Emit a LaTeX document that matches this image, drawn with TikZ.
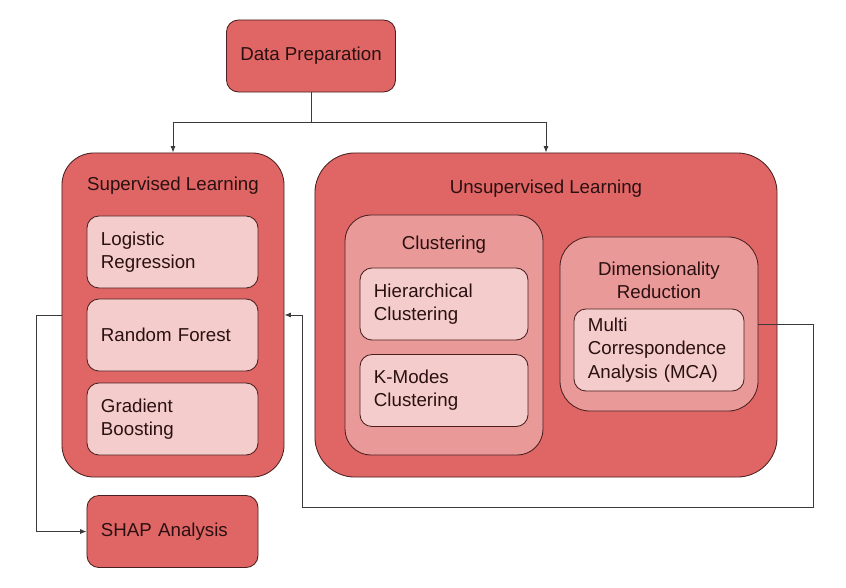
\documentclass[tikz,border=0pt]{standalone}
\usepackage{fontspec}
\setmainfont{Liberation Sans}
\usetikzlibrary{arrows.meta}

\definecolor{clrbox}{HTML}{E06666}
\definecolor{clrmid}{HTML}{EA9999}
\definecolor{clrleaf}{HTML}{F4CCCC}
\definecolor{clrline}{HTML}{4A1F1F}
\definecolor{clrtext}{HTML}{2A1010}
\definecolor{clrwire}{HTML}{3A3A3A}

\begin{document}
\begin{tikzpicture}[x=0.025cm, y=-0.025cm,
	txt/.style={font=\fontsize{13.3}{16.5}\selectfont, text=clrtext},
	group/.style={draw=clrline, fill=#1, line width=0.6pt, inner sep=0pt},
	leaf/.style={txt, draw=clrline, fill=clrleaf, line width=0.6pt, rounded corners=0.3cm,
		minimum height=1.8cm, inner xsep=0.35cm, text width=#1, align=left},
	title/.style={txt, align=center},
	wire/.style={draw=clrwire, line width=0.6pt},
	tip/.style={-{Latex[length=4.5pt,width=3.5pt]}}
]

\useasboundingbox (0,0) rectangle (846,587);

\def\leafW{3.575cm}
\def\clusW{3.5cm}
\def\mcaW{3.55cm}

% top
\node[txt, draw=clrline, fill=clrbox, line width=0.6pt, rounded corners=0.3cm,
	minimum width=4.225cm, minimum height=1.8cm] (prep) at (311,56) {Data Preparation};

% supervised
\node[group=clrbox, rounded corners=0.8cm, minimum width=5.55cm, minimum height=8.1cm] (sup) at (173,315) {};
\node[title] (supT) at (173,186) {Supervised Learning};
\node[leaf=\leafW] (logreg) at (172.5,252) {Logistic\\Regression};
\node[leaf=\leafW] (rforest) at (172.5,335) {Random Forest};
\node[leaf=\leafW] (gboost) at (172.5,419) {Gradient\\Boosting};

% unsupervised
\node[group=clrbox, rounded corners=1cm, minimum width=11.55cm, minimum height=8.1cm] (unsup) at (546,315) {};
\node[title] (unsupT) at (546,189) {Unsupervised Learning};

\node[group=clrmid, rounded corners=0.65cm, minimum width=4.95cm, minimum height=6cm] (clus) at (444,335) {};
\node[title] (clusT) at (444,245) {Clustering};
\node[leaf=\clusW] (hier) at (444,304) {Hierarchical\\Clustering};
\node[leaf=\clusW] (kmodes) at (444,390.5) {K-Modes\\Clustering};

\node[group=clrmid, rounded corners=0.75cm, minimum width=4.95cm, minimum height=4.35cm] (dimred) at (659,324) {};
\node[title] (dimredT) at (659,280) {Dimensionality\\Reduction};
\node[leaf=\mcaW, minimum height=2.05cm] (mca) at (659,350) {Multi\\Correspondence\\Analysis (MCA)};

% bottom
\node[leaf=\leafW, fill=clrbox] (shap) at (172.5,531.5) {SHAP Analysis};

% connectors
\coordinate (split) at (311,122);
\coordinate (rloop) at (813,507);
\coordinate (lloop) at (302,507);

\draw[wire] (prep.south) -- (split);
\draw[wire, tip] (split) -| (sup.north);
\draw[wire, tip] (split) -| (unsup.north);
\draw[wire, tip] (sup.west) -- ++(-25,0) |- (shap.west);
\draw[wire, tip] (dimred.east) -| (rloop) -- (lloop) |- (sup.east);

\end{tikzpicture}
\end{document}
